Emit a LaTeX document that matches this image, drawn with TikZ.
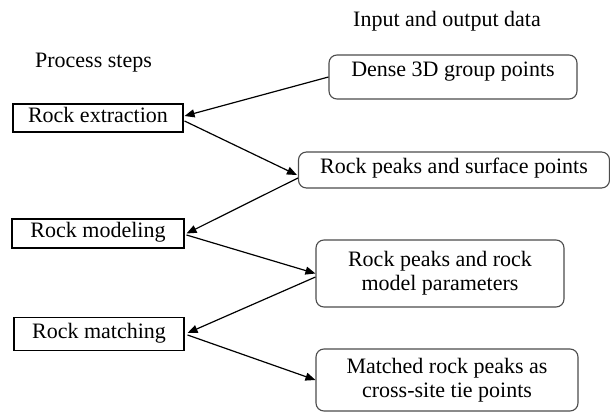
\documentclass[tikz,border=0pt]{standalone}
\usepackage{fontspec}
\setmainfont{Liberation Serif}
\usetikzlibrary{arrows.meta,calc}
\begin{document}
\begin{tikzpicture}[x=1pt,y=-1pt,
  every node/.style={font=\fontsize{22}{24}\selectfont, inner sep=0pt},
  stepbox/.style={draw=black, line width=1.1pt, text height=15pt, text depth=7pt},
  databox/.style={draw=black!70, line width=1.1pt, rounded corners=8pt, align=center},
  conn/.style={draw=black, line width=1.2pt, -{Triangle[length=10pt,width=8pt]}}
]
\useasboundingbox (0,0) rectangle (610,412);
\node[anchor=base] (hin) at (447,27) {Input and output data};
\node[anchor=base] (hps) at (93.5,67) {Process steps};

\node[stepbox, minimum width=170pt, minimum height=28pt] (ext) at (98,118) {Rock extraction};
\node[stepbox, minimum width=172pt, minimum height=29pt] (mod) at (98,233.5) {Rock modeling};
\node[stepbox, minimum width=170pt, minimum height=33pt] (mat) at (99,334) {Rock matching};

\node[databox, minimum width=248pt, minimum height=44pt, text height=15pt, text depth=15pt] (dense) at (453,77) {Dense 3D group points};
\node[databox, minimum width=311pt, minimum height=36pt, text height=15pt, text depth=9pt] (surf) at (454,170) {Rock peaks and surface points};
\node[databox, minimum width=248pt, minimum height=67pt] (rrp) at (440,273.5) {Rock peaks and rock\\model parameters};
\node[databox, minimum width=262pt, minimum height=62pt] (tie) at (447,380) {Matched rock peaks as\\cross-site tie points};

\draw[conn] (dense.west) -- ($(ext.east)+(1,-2)$);
\draw[conn] ($(ext.east)+(1,3)$) -- ($(surf.west)+(-1,5)$);
\draw[conn] ($(surf.west)+(0,8)$) -- ($(mod.east)+(2,0)$);
\draw[conn] ($(mod.east)+(2,1.5)$) -- (rrp.west);
\draw[conn] ($(rrp.west)+(0,3.5)$) -- ($(mat.east)+(3,-1)$);
\draw[conn] ($(mat.east)+(3,1)$) -- (tie.west);
\end{tikzpicture}
\end{document}
